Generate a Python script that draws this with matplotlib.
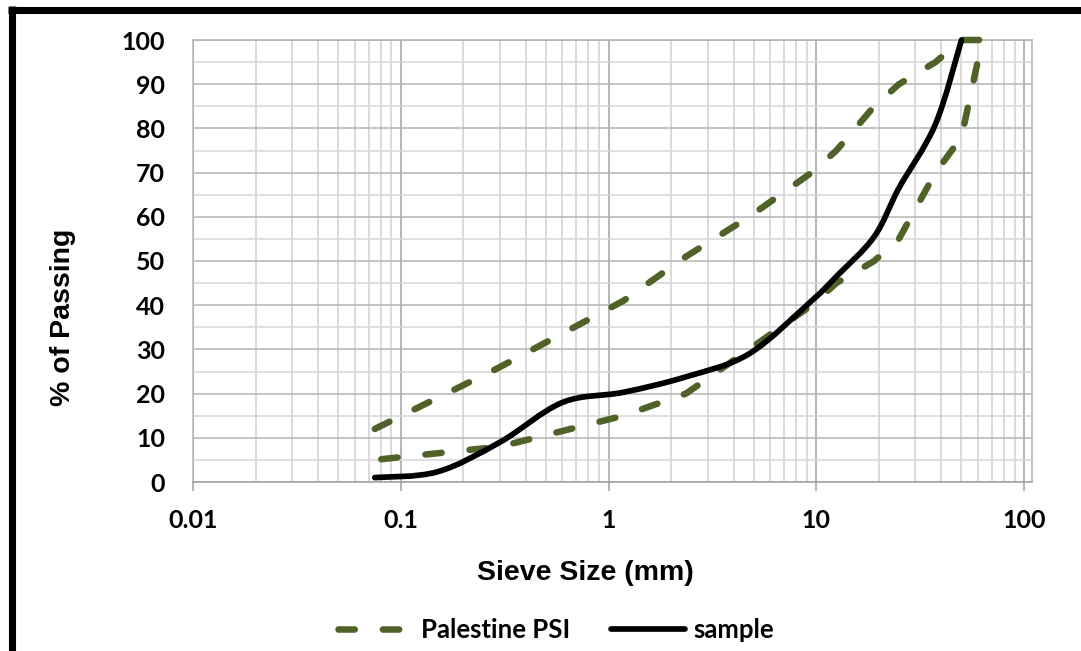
import numpy as np
import matplotlib
matplotlib.use("Agg")
import matplotlib.pyplot as plt
from matplotlib.path import Path
from matplotlib.patches import PathPatch
from matplotlib.lines import Line2D
from matplotlib.ticker import LogLocator, MultipleLocator, NullFormatter

# sieve sizes (mm) for the Palestine PSI limits
psi_sieve = [0.075, 0.3, 1.18, 2.36, 4.75, 9.5, 12.5, 19, 25, 37.5, 50, 63]
psi_upper = [12, 26, 41, 51, 60, 70, 75, 85, 90, 95, 100, 100]
psi_lower = [5, 8, 15, 20, 30, 40, 45, 50, 55, 70, 78, 100]

# sample gradation
sample_sieve = [0.075, 0.15, 0.3, 0.6, 1.18, 2.36, 4.75, 9.5, 12.5, 19, 25, 37.5, 50]
sample_pass = [1, 2.3, 9, 18, 20.3, 23.8, 29, 41, 46.5, 55.5, 66.5, 81, 100]

xtick_vals = [0.01, 0.1, 1, 10, 100]
xtick_labels = ["0.01", "0.1", "1", "10", "100"]

green = "#4f6228"
W, H = 1081, 651


def smooth_path(xs, ys):
    # excel-like smoothed line: catmull-rom -> cubic bezier, in log10(x) space
    p = np.column_stack([np.log10(xs), ys])
    n = len(p)
    verts = [p[0]]
    codes = [Path.MOVETO]
    for i in range(n - 1):
        p0 = p[i - 1] if i > 0 else p[i]
        p1 = p[i]
        p2 = p[i + 1]
        p3 = p[i + 2] if i + 2 < n else p[i + 1]
        c1 = p1 + (p2 - p0) / 6.0
        c2 = p2 - (p3 - p1) / 6.0
        verts += [c1, c2, p2]
        codes += [Path.CURVE4] * 3
    verts = np.array(verts)
    verts[:, 0] = 10 ** verts[:, 0]
    return Path(verts, codes)


fig = plt.figure(figsize=(W / 100, H / 100), dpi=100)
ax = fig.add_axes([193 / W, (H - 482) / H, (1032 - 193) / W, 442 / H])
ax.set_xscale("log")
ax.set_xlim(0.01, 10 ** (2 + 8 / 208))
ax.set_ylim(0, 100)
ax.set_axisbelow(True)

# palestine PSI band drawn as one series: up the upper limit, back down the lower
band_x = psi_sieve + psi_sieve[::-1]
band_y = psi_upper + psi_lower[::-1]
psi_line, = ax.plot(band_x, band_y, color=green, lw=4.7, dashes=(2.5, 4.3),
                    dash_capstyle="round", solid_joinstyle="round", clip_on=False, zorder=3)

ax.add_patch(PathPatch(smooth_path(sample_sieve, sample_pass), fill=False,
                       edgecolor="black", lw=4.1, capstyle="round", joinstyle="round",
                       clip_on=False, zorder=4))

# grid
ax.xaxis.set_major_locator(plt.FixedLocator(xtick_vals))
ax.xaxis.set_minor_locator(LogLocator(base=10, subs=np.arange(2, 10), numticks=20))
ax.xaxis.set_minor_formatter(NullFormatter())
ax.set_xticks(xtick_vals)
ax.set_xticklabels(xtick_labels)
ax.yaxis.set_major_locator(MultipleLocator(10))
ax.yaxis.set_minor_locator(MultipleLocator(5))
ax.grid(which="major", axis="x", color="#a0a0a0", lw=1.1)
ax.grid(which="minor", axis="x", color="#d0d0d0", lw=1.1)
ax.grid(which="major", axis="y", color="#b4b4b4", lw=1.1)
ax.grid(which="minor", axis="y", color="#d6d6d6", lw=1.1)
for s in ax.spines.values():
    s.set_color("#b4b4b4")
    s.set_linewidth(1.1)
ax.spines["bottom"].set_color("#a0a0a0")

ax.tick_params(axis="x", which="major", length=6.5, width=1.1, color="#a0a0a0", pad=13)
ax.tick_params(axis="x", which="minor", length=0)
ax.tick_params(axis="y", which="both", length=0, pad=20)
for lab in ax.get_xticklabels() + ax.get_yticklabels():
    lab.set_fontfamily("Lato")
    lab.set_fontweight("bold")
    lab.set_fontsize(18)

fig.text(585 / W, 1 - 573 / H, "Sieve Size (mm)", ha="center", va="center",
         fontsize=20.5, fontweight="bold", family="Liberation Sans")
fig.text(63 / W, 1 - 317 / H, "% of Passing", ha="center", va="center", rotation=90,
         fontsize=20.5, fontweight="bold", family="Liberation Sans")

handles = [Line2D([], [], color=green, lw=4.7, dashes=(2.5, 4.3), dash_capstyle="round"),
           Line2D([], [], color="black", lw=4.1, solid_capstyle="round")]
fig.legend(handles, ["Palestine PSI", "sample"], loc="center", bbox_to_anchor=(556 / W, 1 - 630 / H),
           ncol=2, frameon=False, handlelength=2.9, handletextpad=0.3, columnspacing=1.6,
           prop={"family": "Lato", "weight": "bold", "size": 18.5})

# outer black frame (only left and top visible in the crop)
fig.add_artist(Line2D([11.5 / W, 11.5 / W], [0, 1 - 9.5 / H + 0.006], color="black", lw=5.1,
                      solid_capstyle="butt"))
fig.add_artist(Line2D([8 / W, 1], [1 - 9.5 / H, 1 - 9.5 / H], color="black", lw=5.1,
                      solid_capstyle="butt"))

fig.savefig("out.png", dpi=100)
